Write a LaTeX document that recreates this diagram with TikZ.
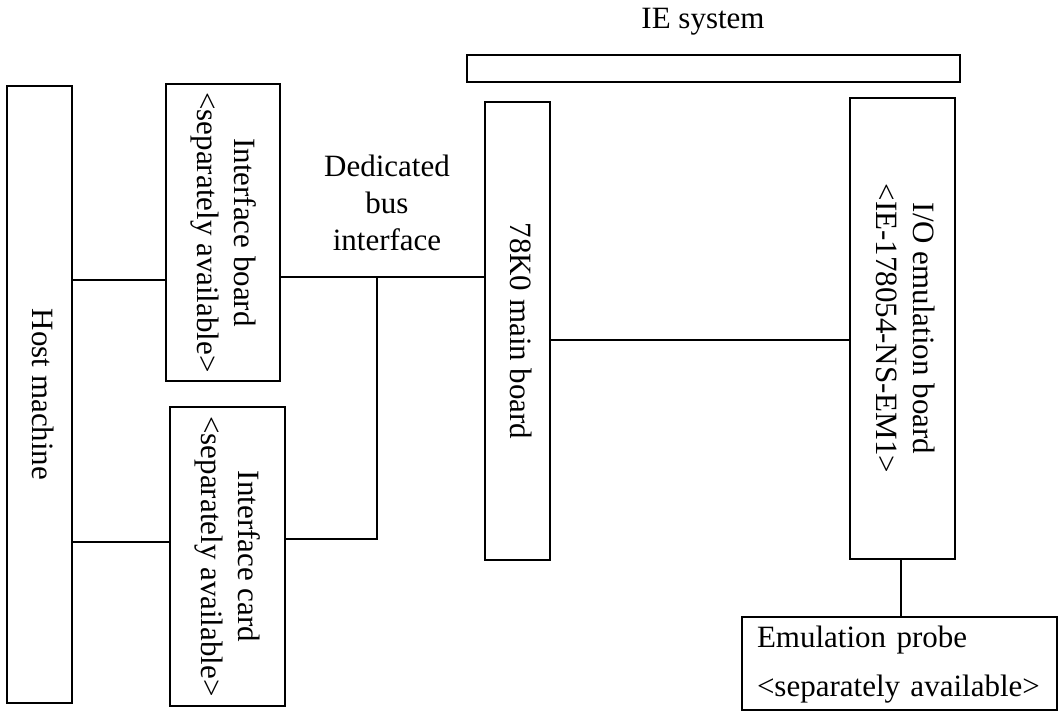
\documentclass[tikz,border=0pt]{standalone}
\usepackage{fontspec}
\setmainfont{Liberation Serif}
\newcommand{\vtext}[1]{\rotatebox{-90}{\begin{tabular}{@{}c@{}}#1\end{tabular}}}
\begin{document}
\begin{tikzpicture}[x=1pt,y=-1pt,
  every node/.style={font=\fontsize{31}{37}\selectfont},
  box/.style={draw, line width=2.2pt, inner sep=0pt},
  conn/.style={line width=1.8pt}]
\useasboundingbox (0,0) rectangle (1058,712);
% boxes
\node[box, minimum width=65pt, minimum height=617pt] (host) at (39.5,394.5) {\vtext{Host machine}};
\node[box, minimum width=114pt, minimum height=297pt] (ib) at (223,232.5) {\vtext{Interface board\\<separately available>}};
\node[box, minimum width=115pt, minimum height=299pt] (ic) at (227.5,556.5) {\vtext{Interface card\\<separately available>}};
\node[box, minimum width=65pt, minimum height=458pt] (main) at (517.5,331) {\vtext{78K0 main board}};
\node[box, minimum width=105pt, minimum height=461pt] (io) at (902.5,328.5) {\vtext{I/O emulation board\\<IE-178054-NS-EM1>}};
\node[box, minimum width=315pt, minimum height=93pt, text width=285pt, inner xsep=15pt, align=left,
  font=\fontsize{31}{43}\selectfont] (probe) at (899.5,663.5) {\raisebox{-7pt}{\begin{tabular}{@{}l@{}}Emulation probe\\[6pt]<separately available>\end{tabular}}};
\node[box, minimum width=493pt, minimum height=27pt] (bar) at (713.5,68.5) {};
% labels
\node (ie) at (703,22) {IE system};
\node[align=center] (dbi) at (387,203) {Dedicated\\bus\\interface};
% connector heights
\coordinate (y280) at (0,280);
\coordinate (y542) at (0,542);
\coordinate (y277) at (0,277);
\coordinate (y340) at (0,340);
\coordinate (x901) at (901,0);
\coordinate (j1) at (377,277);
\coordinate (j2) at (377,539);
% connectors
\draw[conn] (host.east |- y280) -- (ib.west |- y280);
\draw[conn] (host.east |- y542) -- (ic.west |- y542);
\draw[conn] (ib.east |- y277) -- (main.west |- y277);
\draw[conn] (j1) -- (j2) -- (ic.east |- j2);
\draw[conn] (main.east |- y340) -- (io.west |- y340);
\draw[conn] (io.south -| x901) -- (probe.north -| x901);
\end{tikzpicture}
\end{document}
